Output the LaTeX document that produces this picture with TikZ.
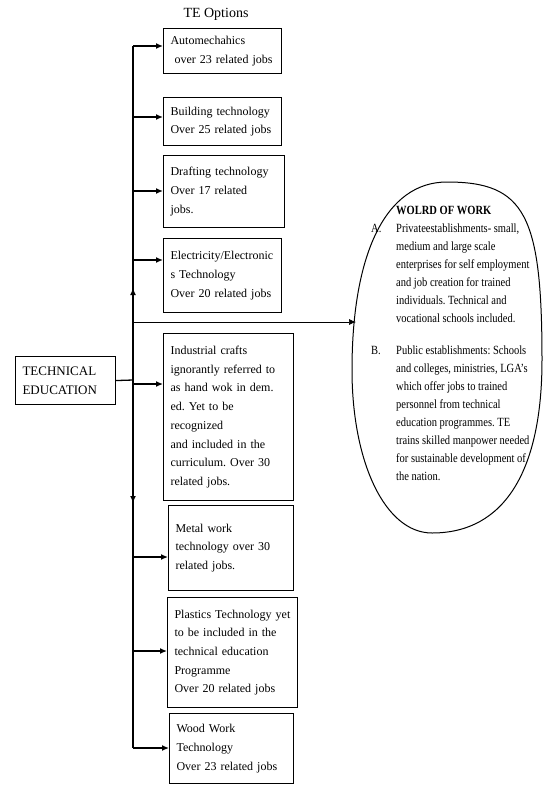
\documentclass[tikz,border=0pt]{standalone}
\usepackage{fontspec}
\setmainfont{Liberation Serif}
\newfontfamily\wowfont[FakeStretch=0.84]{Liberation Serif}
\usetikzlibrary{arrows.meta,positioning}
\frenchspacing

\begin{document}
\begin{tikzpicture}[x=1pt, y=-1pt, >={Latex[length=7pt,width=6pt]}]
    \tikzstyle{optbox}=[draw, line width=1.1pt, align=left, anchor=north west, inner xsep=7pt, inner ysep=2pt, font=\fontsize{12}{18.7}\selectfont]
    \tikzstyle{link}=[line width=1.3pt]
    \useasboundingbox (0,0) rectangle (542,785);

    % Optionen
    \node[font=\fontsize{14}{16}\selectfont] (title) at (216,14) {TE Options};
    \node[optbox, text width=104pt, minimum height=45pt] (auto) at (163,28) {Automechahics\\ \ over 23 related jobs};
    \node[optbox, text width=104pt, minimum height=48pt] (bld) at (163,97) {Building technology\\Over 25 related jobs};
    \node[optbox, text width=107pt, minimum height=72pt] (drf) at (163,155) {Drafting technology\\Over 17 related\\jobs.};
    \node[optbox, text width=104pt, minimum height=74pt] (elc) at (163,238) {Electricity/Electronic\\s Technology\\Over 20 related jobs};
    \node[optbox, text width=116pt, minimum height=167pt] (ind) at (163,333) {Industrial crafts\\ignorantly referred to\\as hand wok in dem.\\ed. Yet to be\\recognized\\and included in the\\curriculum. Over 30\\related jobs.};
    \node[optbox, text width=111pt, minimum height=85pt] (met) at (168,505) {Metal work\\technology over 30\\related jobs.\\[27pt]};
    \node[optbox, text width=116pt, minimum height=110pt] (pls) at (167,597) {Plastics Technology yet\\to be included in the\\technical education\\Programme\\Over 20 related jobs};
    \node[optbox, text width=110pt, minimum height=70pt] (wwk) at (169,713) {Wood Work\\Technology\\Over 23 related jobs};

    % Quelle
    \node[optbox, text width=86pt, minimum height=48pt, font=\fontsize{13}{19}\selectfont] (te) at (15,356) {TECHNICAL\\EDUCATION};

    % Arbeitswelt
    \draw[line width=1pt] (447,182) .. controls (525,182) and (542,215) .. (542,360)
        .. controls (542,470) and (505,533) .. (432,533)
        .. controls (385,533) and (352,462) .. (352,370)
        .. controls (352,255) and (385,182) .. (447,182) -- cycle;
    \coordinate (wow) at (356,322);
    \node[anchor=north west, inner sep=0pt, font=\wowfont\fontsize{12.5}{18}\selectfont] (wtxt) at (371,202) {%
        \begin{tabular}{@{}p{25pt}@{}l@{}}
             & \textbf{WOLRD OF WORK}\\
            A. & Privateestablishments- small,\\
             & medium and large scale\\
             & enterprises for self employment\\
             & and job creation for trained\\
             & individuals. Technical and\\
             & vocational schools included.\\[14pt]
            B. & Public establishments: Schools\\
             & and colleges, ministries, LGA’s\\
             & which offer jobs to trained\\
             & personnel from technical\\
             & education programmes. TE\\
             & trains skilled manpower needed\\
             & for sustainable development of\\
             & the nation.
        \end{tabular}};

    % Stamm
    \coordinate (top) at (133,46);
    \coordinate (bot) at (133,748);
    \coordinate (jn) at (133,380);
    \coordinate (upmk) at (133,288);
    \coordinate (dnmk) at (133,503);

    % Pfeile
    \draw[link] (te.east) -- (jn);
    \draw[link] (top) -- (bot);
    \draw[link,->] (jn) -- (upmk);
    \draw[link,->] (jn) -- (dnmk);
    \draw[link,->] (top) -- (top -| auto.west);
    \draw[link,->] (bot) -- (bot -| wwk.west);
    \foreach \y/\b in {117/bld, 191/drf, 260/elc, 384/ind, 557/met, 651/pls}
        \draw[link,->] (133,\y) -- (\b.west |- 0,\y);
    \draw[->, line width=0.7pt] (jn |- wow) -- (wow);
\end{tikzpicture}
\end{document}
